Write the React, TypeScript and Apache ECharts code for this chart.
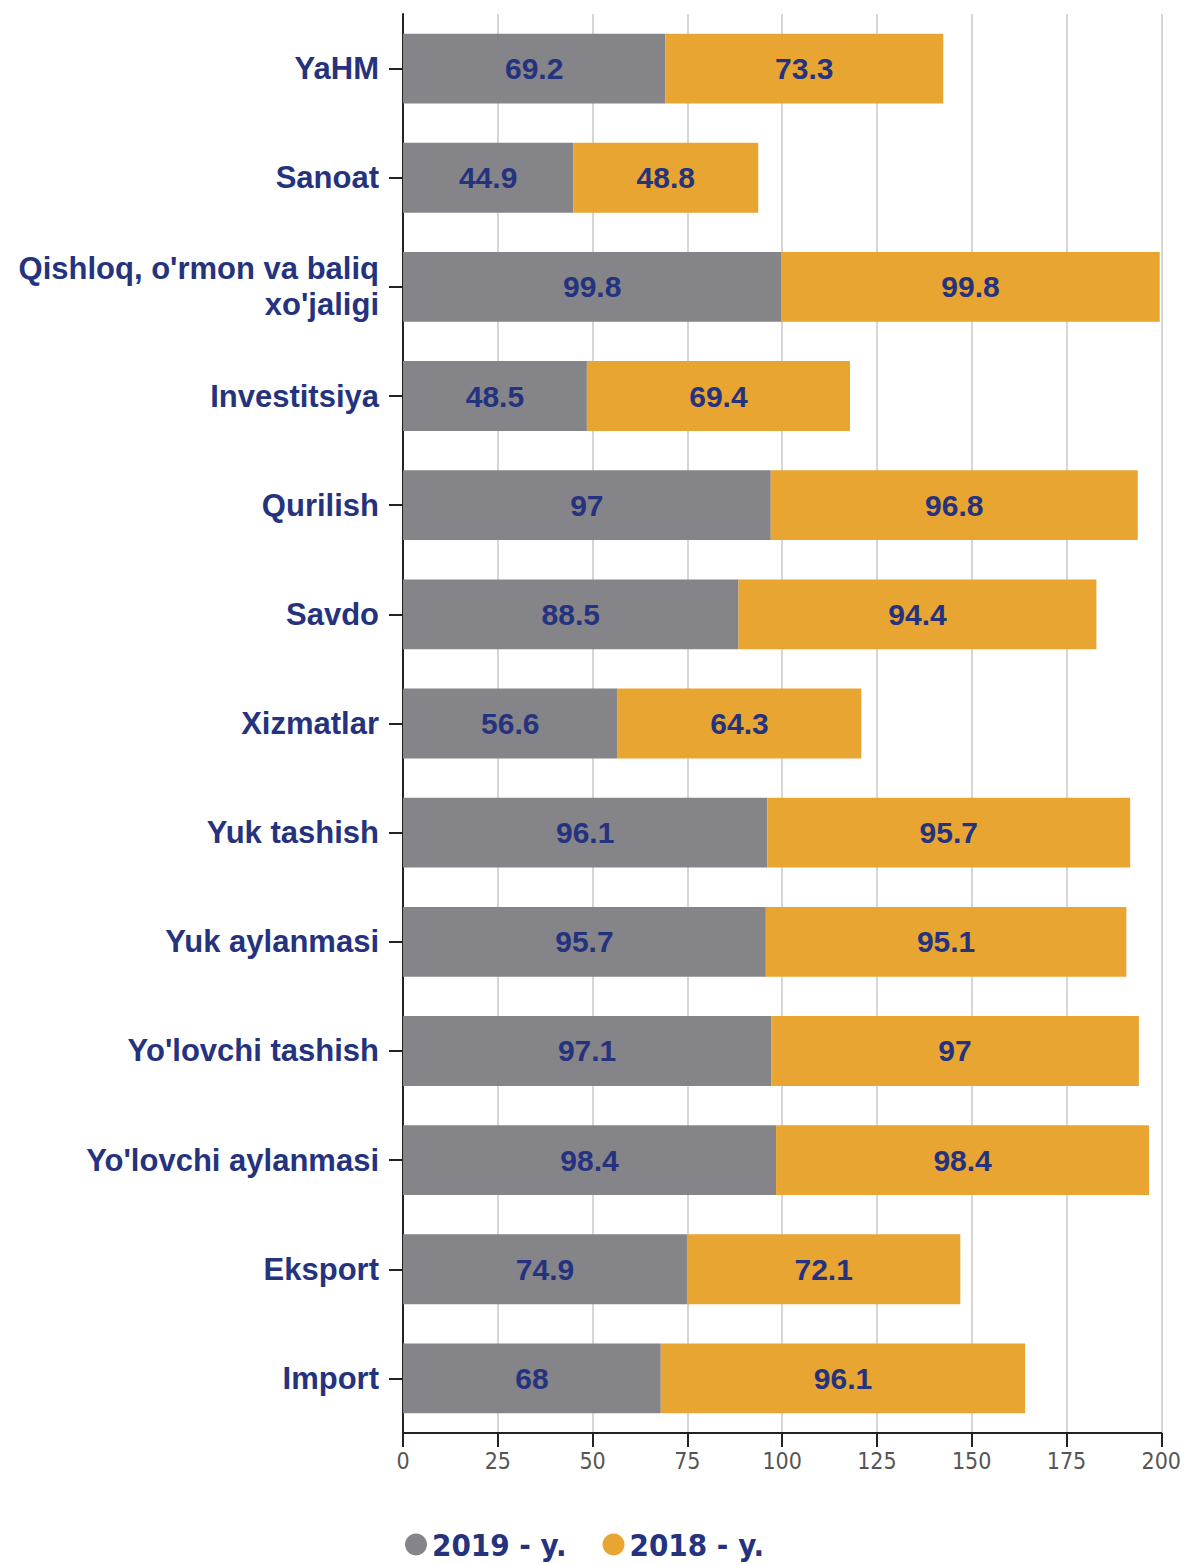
import React, { useEffect, useRef } from "react";
import * as echarts from "echarts";

const categories = [
  "YaHM",
  "Sanoat",
  "Qishloq, o'rmon va baliq\nxo'jaligi",
  "Investitsiya",
  "Qurilish",
  "Savdo",
  "Xizmatlar",
  "Yuk tashish",
  "Yuk aylanmasi",
  "Yo'lovchi tashish",
  "Yo'lovchi aylanmasi",
  "Eksport",
  "Import",
];
const values2019 = [69.2, 44.9, 99.8, 48.5, 97, 88.5, 56.6, 96.1, 95.7, 97.1, 98.4, 74.9, 68];
const values2018 = [73.3, 48.8, 99.8, 69.4, 96.8, 94.4, 64.3, 95.7, 95.1, 97, 98.4, 72.1, 96.1];
const seriesNames = ["2019 - y.", "2018 - y."];
const xTicks = { min: 0, max: 200, interval: 25 };

const NAVY = "#25337e";

export default function App() {
  const ref = useRef<HTMLDivElement>(null);
  useEffect(() => {
    if (!ref.current) return;
    const chart = echarts.init(ref.current, null, { renderer: "svg" });
    const label = {
      show: true,
      position: "inside",
      color: NAVY,
      fontSize: 30,
      fontWeight: "bold",
      fontFamily: "Liberation Sans, Arial, sans-serif",
    };
    chart.setOption({
      animation: false,
      backgroundColor: "#ffffff",
      grid: { left: 403, right: 21, top: 14, bottom: 131, containLabel: false },
      legend: {
        left: 400,
        top: 1524,
        icon: "circle",
        itemWidth: 22,
        itemHeight: 22,
        itemGap: 36,
        textStyle: {
          color: NAVY,
          fontSize: 31,
          fontWeight: "bold",
          fontFamily: "Liberation Sans Narrow, DejaVu Sans Condensed, sans-serif",
        },
        data: seriesNames,
      },
      xAxis: {
        type: "value",
        min: xTicks.min,
        max: xTicks.max,
        interval: xTicks.interval,
        axisLine: { show: true, lineStyle: { color: "#222", width: 2 } },
        axisTick: { show: true, length: 14, lineStyle: { color: "#222", width: 2 } },
        axisLabel: {
          color: "#555",
          fontSize: 23,
          margin: 16,
          fontFamily: "Liberation Sans Narrow, DejaVu Sans Condensed, sans-serif",
        },
        splitLine: { show: true, lineStyle: { color: "#c8c8c8", width: 1.5 } },
      },
      yAxis: {
        type: "category",
        inverse: true,
        data: categories,
        axisLine: { show: true, onZero: false, lineStyle: { color: "#222", width: 2 } },
        axisTick: { show: true, length: 14, alignWithLabel: true, lineStyle: { color: "#222", width: 2 } },
        axisLabel: {
          color: NAVY,
          fontSize: 31,
          fontWeight: "bold",
          margin: 24,
          align: "right",
          lineHeight: 36,
          fontFamily: "Liberation Sans, Arial, sans-serif",
        },
      },
      series: [
        {
          name: seriesNames[0],
          type: "bar",
          stack: "total",
          data: values2019,
          barCategoryGap: "36%",
          itemStyle: { color: "#848489" },
          label,
        },
        {
          name: seriesNames[1],
          type: "bar",
          stack: "total",
          data: values2018,
          barCategoryGap: "36%",
          itemStyle: { color: "#e8a532" },
          label,
        },
      ],
    });
    return () => chart.dispose();
  }, []);
  return <div ref={ref} style={{ width: 1184, height: 1564, position: "absolute", left: 0, top: 0 }} />;
}
